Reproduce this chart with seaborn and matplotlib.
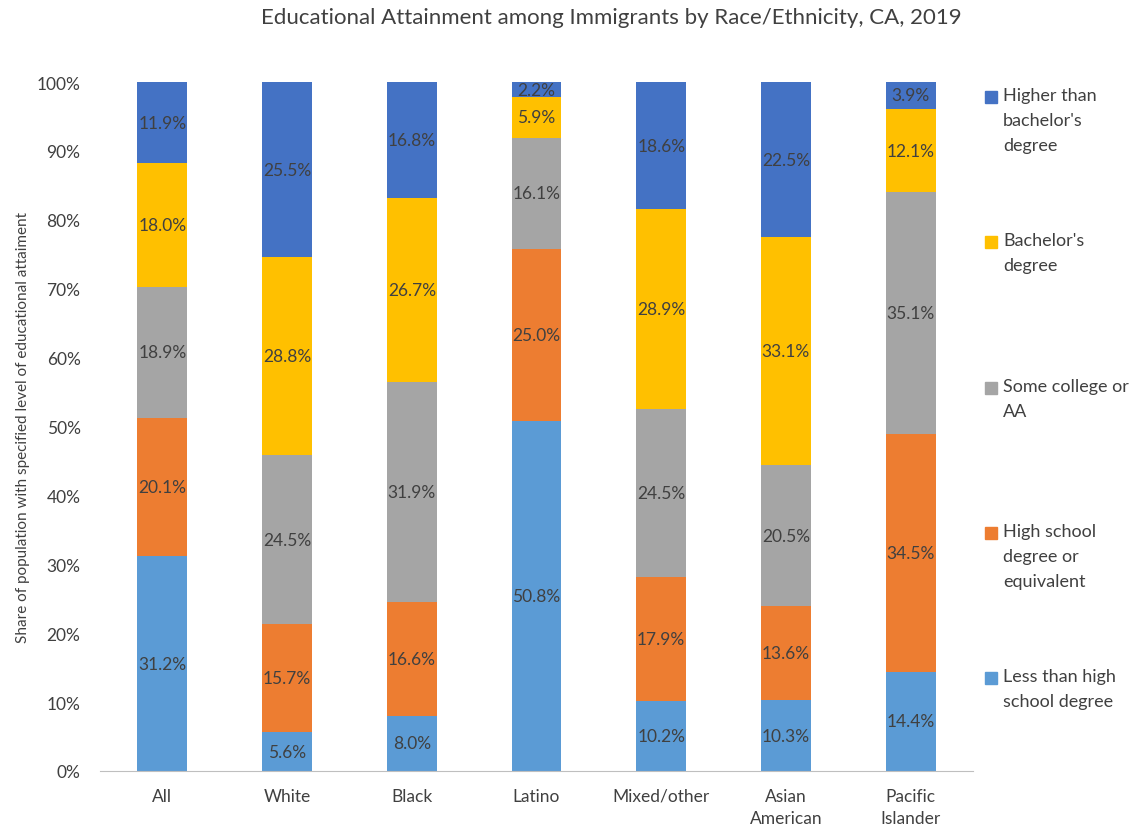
import matplotlib
matplotlib.use("Agg")
import matplotlib.pyplot as plt
import seaborn as sns
import numpy as np
from matplotlib.patches import Rectangle

categories = ["All", "White", "Black", "Latino", "Mixed/other", "Asian\nAmerican", "Pacific\nIslander"]
less_than_hs = [31.2, 5.6, 8.0, 50.8, 10.2, 10.3, 14.4]
high_school = [20.1, 15.7, 16.6, 25.0, 17.9, 13.6, 34.5]
some_college = [18.9, 24.5, 31.9, 16.1, 24.5, 20.5, 35.1]
bachelors = [18.0, 28.8, 26.7, 5.9, 28.9, 33.1, 12.1]
higher = [11.9, 25.5, 16.8, 2.2, 18.6, 22.5, 3.9]

series_names = ["Less than high\nschool degree", "High school\ndegree or\nequivalent",
                "Some college or\nAA", "Bachelor's\ndegree", "Higher than\nbachelor's\ndegree"]
series_vals = [less_than_hs, high_school, some_college, bachelors, higher]
colors = ["#5B9BD5", "#ED7D31", "#A5A5A5", "#FFC000", "#4472C4"]

sns.set_style("white")
plt.rcParams['font.family'] = ['Lato', 'DejaVu Sans']

fig = plt.figure(figsize=(11.44, 8.37), dpi=100)
ax = fig.add_axes([100/1144, 1-772/837, (973-100)/1144, (772-83)/837])

bottom = np.zeros(len(categories))
for name, vals, c in zip(series_names, series_vals, colors):
    vals = np.array(vals)
    sns.barplot(x=categories, y=vals / 100.0, bottom=bottom, color=c, width=0.4,
                ax=ax, saturation=1, linewidth=0)
    cont = ax.containers[-1]
    ax.bar_label(cont, labels=[f"{v:.1f}%" for v in vals], label_type='center',
                 color="#404040", fontsize=12.5)
    bottom = bottom + vals / 100.0

ax.set_ylim(0, 1.0)
ax.set_xlim(-0.5, len(categories) - 0.5)
ax.set_yticks(np.arange(0, 1.01, 0.1))
ax.set_yticklabels([f"{int(round(t*100))}%" for t in np.arange(0, 1.01, 0.1)])
ax.tick_params(axis='both', labelsize=12.5, colors="#404040", length=0)
ax.tick_params(axis='y', pad=14)
ax.tick_params(axis='x', pad=12)
for lbl in ax.get_xticklabels():
    lbl.set_linespacing(1.45)
for s in ["top", "right", "left"]:
    ax.spines[s].set_visible(False)
ax.spines["bottom"].set_color("#BFBFBF")
ax.set_ylabel("Share of population with specified level of educational attaiment",
              fontsize=11, color="#404040", labelpad=5)
ax.set_xlabel("")

fig.text(611/1144, 1-18/837, "Educational Attainment among Immigrants by Race/Ethnicity, CA, 2019",
         ha='center', va='center', fontsize=16, color="#404040")

# legend (reversed order)
leg_y = [98, 243, 389, 534, 679]
for i, (name, c) in enumerate(zip(series_names[::-1], colors[::-1])):
    y = leg_y[i]
    fig.add_artist(Rectangle((985/1144, 1-(y+6)/837), 12/1144, 12/837,
                             transform=fig.transFigure, color=c))
    fig.text(1003/1144, 1-(y-10)/837, name, ha='left', va='top', fontsize=13,
             color="#404040", linespacing=1.7)

fig.savefig("out.png", dpi=100)
